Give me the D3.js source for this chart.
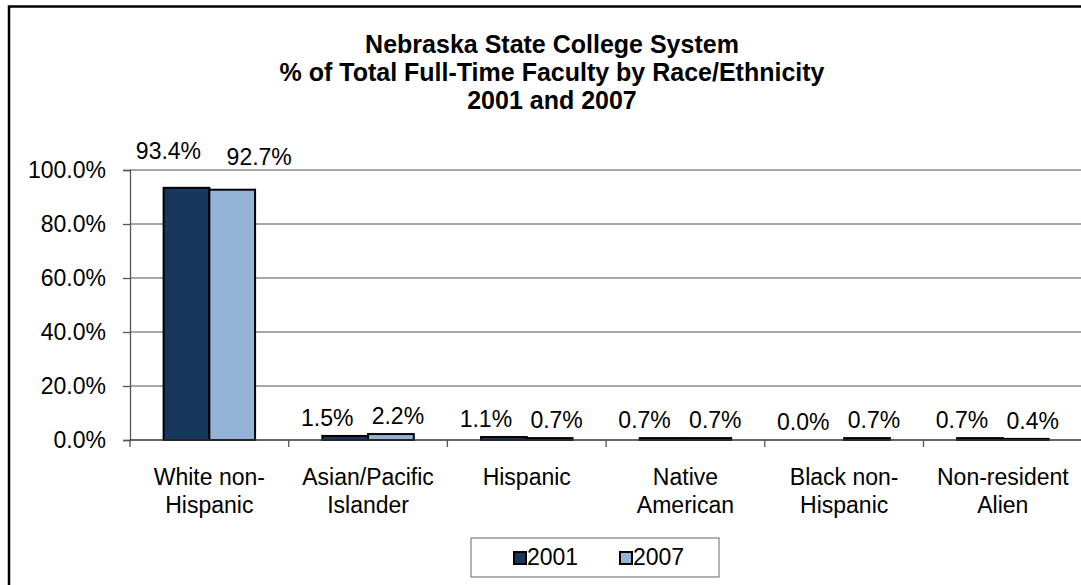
<!DOCTYPE html>
<html>
<head>
<meta charset="utf-8">
<script src="https://cdn.jsdelivr.net/npm/d3@7"></script>
<style>
  body { margin: 0; background: #fff; }
  svg { display: block; font-family: Arial, "Liberation Sans", sans-serif; }
</style>
</head>
<body>
<div class="chart"></div>
<script>
var categories = [
    ["White non-", "Hispanic"],
    ["Asian/Pacific", "Islander"],
    ["Hispanic"],
    ["Native", "American"],
    ["Black non-", "Hispanic"],
    ["Non-resident", "Alien"]
];
var years = ["2001", "2007"];
var values2001 = [93.4, 1.5, 1.1, 0.7, 0.0, 0.7];
var values2007 = [92.7, 2.2, 0.7, 0.7, 0.7, 0.4];
var yTicks = [0, 20, 40, 60, 80, 100];
var titleLines = [
    "Nebraska State College System",
    "% of Total Full-Time Faculty by Race/Ethnicity",
    "2001 and 2007"
];

var width = 1081;
var height = 585;
var colors = ["#17375E", "#95B3D7"];
var series = [values2001, values2007];

var svg = d3.select(".chart")
    .append("svg")
    .attr("width", width)
    .attr("height", height);

// outer chart frame (runs off right and bottom like the source)
svg.append("rect")
    .attr("x", 9).attr("y", 6.5)
    .attr("width", 1100).attr("height", 620)
    .attr("fill", "#fff")
    .attr("stroke", "#000")
    .attr("stroke-width", 2.5);

// title
svg.append("g").selectAll("text")
    .data(titleLines)
    .enter().append("text")
    .attr("x", 552)
    .attr("y", function(d, i) { return 53 + i * 28; })
    .attr("text-anchor", "middle")
    .attr("font-weight", "bold")
    .attr("font-size", "25px")
    .text(function(d) { return d; });

var plotLeft = 130, plotTop = 170, plotBottom = 440;
var catWidth = 158.7;

var x = d3.scaleBand()
    .domain(d3.range(categories.length))
    .range([plotLeft, plotLeft + catWidth * categories.length]);

var xs = d3.scaleBand()
    .domain(d3.range(years.length))
    .range([0, x.bandwidth()])
    .paddingOuter(0.735);

var y = d3.scaleLinear()
    .domain([0, 100])
    .range([plotBottom, plotTop]);

// gridlines
svg.append("g").selectAll("line")
    .data(yTicks.filter(function(t) { return t > 0; }))
    .enter().append("line")
    .attr("x1", plotLeft).attr("x2", width + 10)
    .attr("y1", function(d) { return y(d); })
    .attr("y2", function(d) { return y(d); })
    .attr("stroke", "#8a8a8a")
    .attr("stroke-width", 1.5);

// y axis
var yAxis = svg.append("g")
    .attr("transform", "translate(" + plotLeft + ",0)")
    .call(d3.axisLeft(y).tickValues(yTicks).tickSize(7).tickPadding(17)
        .tickFormat(function(d) { return d.toFixed(1) + "%"; }));
yAxis.select(".domain").attr("stroke", "#555").attr("stroke-width", 1.3);
yAxis.selectAll(".tick line").attr("stroke", "#555").attr("stroke-width", 1.3);
yAxis.selectAll("text")
    .attr("font-size", "23px")
    .attr("font-family", "Arial, 'Liberation Sans', sans-serif")
    .attr("fill", "#000");

// bars
var groups = svg.append("g").selectAll("g")
    .data(series)
    .enter().append("g")
    .attr("fill", function(d, i) { return colors[i]; });

groups.selectAll("rect")
    .data(function(d, i) { return d.map(function(v, j) { return { v: v, i: i, j: j }; }); })
    .enter().append("rect")
    .attr("x", function(d) { return x(d.j) + xs(d.i); })
    .attr("y", function(d) { return y(d.v); })
    .attr("width", xs.bandwidth())
    .attr("height", function(d) { return plotBottom - y(d.v); })
    .attr("stroke", "#000")
    .attr("stroke-width", 2);

// x axis
var xAxis = svg.append("g")
    .attr("transform", "translate(0," + plotBottom + ")");
xAxis.append("line")
    .attr("x1", plotLeft).attr("x2", width + 10)
    .attr("stroke", "#333").attr("stroke-width", 1.3);
xAxis.selectAll(".tk")
    .data(d3.range(categories.length))
    .enter().append("line")
    .attr("class", "tk")
    .attr("x1", function(d) { return x(d); })
    .attr("x2", function(d) { return x(d); })
    .attr("y1", 0).attr("y2", 7)
    .attr("stroke", "#555").attr("stroke-width", 1.3);

var catLabels = xAxis.selectAll(".cat")
    .data(categories)
    .enter().append("text")
    .attr("class", "cat")
    .attr("text-anchor", "middle")
    .attr("font-size", "23px")
    .attr("x", function(d, i) { return x(i) + x.bandwidth() / 2; })
    .attr("y", 45);
catLabels.selectAll("tspan")
    .data(function(d) { return d; })
    .enter().append("tspan")
    .attr("x", function() { return d3.select(this.parentNode).attr("x"); })
    .attr("dy", function(d, i) { return i ? 28 : 0; })
    .text(function(d) { return d; });

// value labels: tall bars have their labels lifted above the plot top
groups.selectAll("text")
    .data(function(d, i) { return d.map(function(v, j) { return { v: v, i: i, j: j }; }); })
    .enter().append("text")
    .attr("text-anchor", "middle")
    .attr("font-size", "23px")
    .attr("fill", "#000")
    .attr("x", function(d) {
        var cx = x(d.j) + xs(d.i) + xs.bandwidth() / 2;
        if (d.i === 0) return cx - 18;
        return cx + (d.v > 50 ? 27 : 7);
    })
    .attr("y", function(d) {
        return d.v > 50 ? y(100) - 11 + 6 * d.i : y(d.v) - 10;
    })
    .text(function(d) { return d.v.toFixed(1) + "%"; });

// legend
var legend = svg.append("g").attr("transform", "translate(471,538)");
legend.append("rect")
    .attr("width", 248).attr("height", 39)
    .attr("fill", "#fff")
    .attr("stroke", "#7f7f7f").attr("stroke-width", 1.2);
var items = legend.selectAll(".item")
    .data(years)
    .enter().append("g")
    .attr("class", "item")
    .attr("transform", function(d, i) { return "translate(" + (43 + i * 106) + ",14)"; });
items.append("rect")
    .attr("width", 12).attr("height", 12)
    .attr("fill", function(d, i) { return colors[i]; })
    .attr("stroke", "#000").attr("stroke-width", 2);
items.append("text")
    .attr("x", 13).attr("y", 13)
    .attr("font-size", "23px")
    .text(function(d) { return d; });
</script>
</body>
</html>
